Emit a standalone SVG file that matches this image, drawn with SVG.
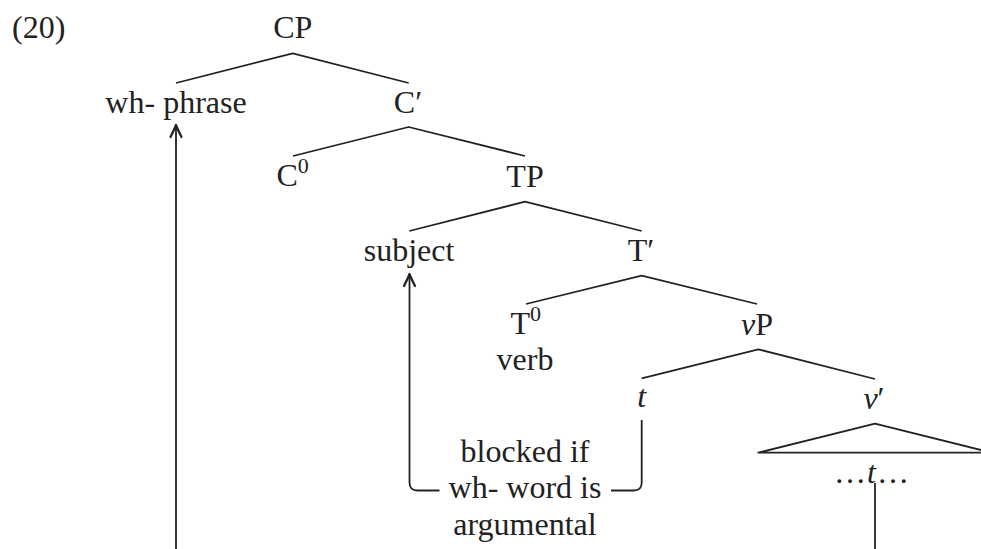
<svg xmlns="http://www.w3.org/2000/svg" width="981" height="549" viewBox="0 0 981 549">
<style>
text{font-family:"Liberation Serif","Times New Roman",serif;font-size:32px;fill:#222;}
.m{text-anchor:middle;}
.i{font-style:italic;}
.sup{font-size:22px;}
.edge{fill:none;stroke:#222;stroke-width:1.8;stroke-linejoin:round;}
</style>
<defs>
<marker id="arr" markerWidth="24" markerHeight="24" refX="0" refY="0" orient="auto" markerUnits="userSpaceOnUse" overflow="visible">
<path d="M-12,-5.5 Q-4,-1.5 0,0 Q-4,1.5 -12,5.5" fill="none" stroke="#222" stroke-width="2.2" stroke-linecap="round" stroke-linejoin="round"/>
</marker>
</defs>
<rect width="981" height="549" fill="#fff"/>
<g id="label-20"><text x="12" y="38">(20)</text></g>
<g id="node-CP"><text class="m" x="292.7" y="38">CP</text></g>
<g id="node-whphrase"><text class="m" x="176" y="113">wh- phrase</text></g>
<g id="node-Cbar"><text class="m" x="408" y="113">C′</text></g>
<g id="node-C0"><text x="276.5" y="186">C<tspan class="sup" dy="-13">0</tspan></text></g>
<g id="node-TP"><text class="m" x="525" y="187">TP</text></g>
<g id="node-subject"><text class="m" x="409" y="261">subject</text></g>
<g id="node-Tbar"><text class="m" x="641" y="261">T′</text></g>
<g id="node-T0"><text x="510.5" y="334">T<tspan class="sup" dy="-13">0</tspan></text><text class="m" x="525" y="370">verb</text></g>
<g id="node-vP"><text class="m" x="757" y="335"><tspan class="i">v</tspan>P</text></g>
<g id="node-t"><text class="m i" x="641.7" y="407">t</text></g>
<g id="node-vbar"><text class="m" x="874" y="409"><tspan class="i">v</tspan>′</text></g>
<g id="node-vbar-content"><path class="edge" d="M758.3,452.7 L875,423.7 L991.7,452.7 Z"/><text class="m" x="872" y="483" letter-spacing="1">…<tspan class="i">t</tspan>…</text></g>
<g id="label-blocked"><text class="m" x="525" y="461.7">blocked if</text><text class="m" x="525" y="498.3">wh- word is</text><text class="m" x="525" y="535">argumental</text></g>
<g id="connectors">
<path class="edge" d="M176,83 L292.7,53.3 L408.7,83"/>
<path class="edge" d="M293,156 L408.7,127 L525,156"/>
<path class="edge" d="M409.3,231 L525,201.7 L641.7,231"/>
<path class="edge" d="M526,304 L641.7,275.7 L757,304"/>
<path class="edge" d="M641.7,378.3 L758.3,349.3 L875,379"/>
<path class="edge" d="M176,549 L176,125" marker-end="url(#arr)"/>
<path class="edge" d="M875,483 L875,549"/>
<path class="edge" d="M641.7,420 L641.7,482.5 Q641.7,490.5 633.7,490.5 L611,490.5"/>
<path class="edge" d="M439.5,490.5 L417.5,490.5 Q409.5,490.5 409.5,482.5 L409.5,274" marker-end="url(#arr)"/>
</g>
</svg>
